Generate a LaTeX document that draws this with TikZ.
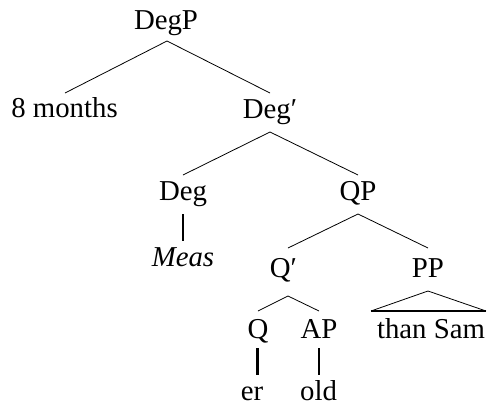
\documentclass[tikz,border=0pt]{standalone}
\usepackage{fontspec}
\setmainfont{Liberation Serif}
\begin{document}
\begin{tikzpicture}[x=1pt,y=-1pt,
  lbl/.style={anchor=base,inner sep=0pt,font=\fontsize{28.8}{34}\selectfont},
  thin/.style={line width=0.8pt},
  thickln/.style={line width=1.8pt}]
\useasboundingbox (0,0) rectangle (488,405);
% labels
\node[lbl] (degp) at (166,29) {DegP};
\node[lbl] (months) at (64.5,117) {8 months};
\node[lbl] (degbar) at (270,118) {Deg′};
\node[lbl] (deg) at (183,200) {Deg};
\node[lbl] (meas) at (183,266) {\itshape Meas};
\node[lbl] (qp) at (358,200) {QP};
\node[lbl] (qbar) at (283.5,277) {Q′};
\node[lbl] (pp) at (428,277) {PP};
\node[lbl] (q) at (258,338) {Q};
\node[lbl] (ap) at (319,338) {AP};
\node[lbl] (than) at (431,338) {than Sam};
\node[lbl] (er) at (252,400) {er};
\node[lbl] (old) at (318.5,400) {old};
% connector ends
\coordinate (degpT) at (167,41);
\coordinate (monthsB) at (65,93);
\coordinate (degbarB) at (270,93);
\coordinate (degbarT) at (270,132);
\coordinate (degB) at (183,175);
\coordinate (qpB) at (358,175);
\coordinate (degT) at (183,214);
\coordinate (measB) at (183,241);
\coordinate (qpT) at (358,214);
\coordinate (qbarB) at (288,248);
\coordinate (ppB) at (428,248);
\coordinate (qbarT) at (288,296);
\coordinate (qB) at (258,311);
\coordinate (apB) at (319,311);
\coordinate (ppT) at (428,291);
\coordinate (triL) at (371,311);
\coordinate (triR) at (486,311);
\coordinate (qT) at (257.5,348);
\coordinate (erB) at (257.5,375);
\coordinate (apT) at (319,348);
\coordinate (oldB) at (319,375);
% connectors
\draw[thin] (monthsB) -- (degpT) -- (degbarB);
\draw[thin] (degB) -- (degbarT) -- (qpB);
\draw[thickln] (degT) -- (measB);
\draw[thin] (qbarB) -- (qpT) -- (ppB);
\draw[thin] (qB) -- (qbarT) -- (apB);
\draw[thin] (triL) -- (ppT) -- (triR);
\draw[line width=1.6pt] (triL) -- (triR);
\draw[line width=2.4pt] (qT) -- (erB);
\draw[line width=1.6pt] (apT) -- (oldB);
\end{tikzpicture}
\end{document}
